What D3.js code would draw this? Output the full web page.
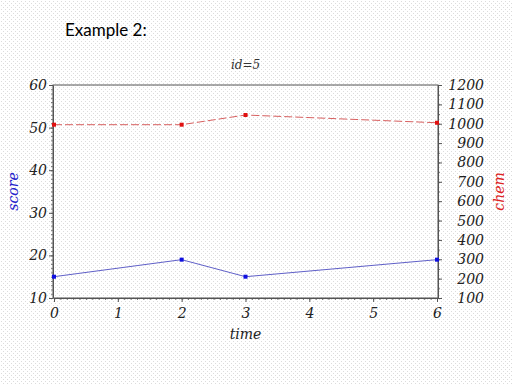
<!DOCTYPE html>
<html>
<head>
<meta charset="utf-8">
<script src="https://cdn.jsdelivr.net/npm/d3@7.9.0/dist/d3.min.js"></script>
<style>
  body { margin: 0; background: #fff; }
  svg { display: block; }
  .tick text { font-family: "DejaVu Serif", serif; font-style: italic; }
</style>
</head>
<body>
<svg width="512" height="384"></svg>
<script>
// data
const time = [0, 2, 3, 6];
const score = [15, 19, 15, 19];
const chem = [995, 995, 1045, 1005];
const xTicks = [0, 1, 2, 3, 4, 5, 6];
const scoreTicks = [10, 20, 30, 40, 50, 60];
const chemTicks = [100, 200, 300, 400, 500, 600, 700, 800, 900, 1000, 1100, 1200];

const svg = d3.select('svg');

// dotted background
const pat = svg.append('defs').append('pattern')
  .attr('id', 'dots').attr('width', 4).attr('height', 4)
  .attr('patternUnits', 'userSpaceOnUse');
pat.append('rect').attr('width', 4).attr('height', 4).attr('fill', '#fff');
pat.append('rect').attr('x', 1).attr('y', 1).attr('width', 1).attr('height', 1).attr('fill', '#dcdcdc');
pat.append('rect').attr('x', 3).attr('y', 3).attr('width', 1).attr('height', 1).attr('fill', '#dcdcdc');
svg.append('rect').attr('width', 512).attr('height', 384).attr('fill', 'url(#dots)');

const plotL = 53, plotR = 438, plotT = 85, plotB = 298;

const x = d3.scaleLinear().domain([0, 6]).range([plotL + 1, plotR - 1]);
const yL = d3.scaleLinear().domain([10, 60]).range([plotB, plotT]);
const yR = d3.scaleLinear().domain([100, 1200]).range([plotB, plotT]);
const fmt = d3.format('d');

// title texts
svg.append('text').attr('x', 65).attr('y', 36)
  .attr('font-family', 'Lato, "Open Sans", sans-serif').attr('font-size', 17)
  .text('Example 2:');
svg.append('text').attr('x', (plotL + plotR) / 2).attr('y', 69)
  .attr('text-anchor', 'middle')
  .attr('font-family', '"DejaVu Serif", serif').attr('font-style', 'italic').attr('font-size', 12)
  .attr('fill', '#333')
  .text('id=5');

// frame
svg.append('rect').attr('x', plotL).attr('y', plotT)
  .attr('width', plotR - plotL).attr('height', plotB - plotT)
  .attr('fill', 'none').attr('stroke', '#555').attr('stroke-width', 1);

function styleAxis(g) {
  g.select('.domain').attr('stroke', '#555');
  g.selectAll('.tick line').attr('stroke', '#555');
  g.selectAll('.tick text').attr('fill', '#222').attr('font-size', 14);
}

// minor ticks
svg.append('g').attr('transform', `translate(0,${plotB})`)
  .call(d3.axisBottom(x).tickValues(d3.range(0, 60).map(d => d / 10)).tickSize(2).tickFormat(''))
  .call(g => g.select('.domain').remove())
  .selectAll('line').attr('stroke', '#777');
svg.append('g').attr('transform', `translate(${plotL},0)`)
  .call(d3.axisLeft(yL).tickValues(d3.range(10, 61, 1)).tickSize(2).tickFormat(''))
  .call(g => g.select('.domain').remove())
  .selectAll('line').attr('stroke', '#777');
svg.append('g').attr('transform', `translate(${plotR},0)`)
  .call(d3.axisRight(yR).tickValues(d3.range(100, 1201, 50)).tickSize(2).tickFormat(''))
  .call(g => g.select('.domain').remove())
  .selectAll('line').attr('stroke', '#777');

// major axes
svg.append('g').attr('transform', `translate(0,${plotB})`)
  .call(d3.axisBottom(x).tickValues(xTicks).tickFormat(fmt).tickSize(4).tickPadding(6).tickSizeOuter(0))
  .call(styleAxis);
svg.append('g').attr('transform', `translate(${plotL},0)`)
  .call(d3.axisLeft(yL).tickValues(scoreTicks).tickFormat(fmt).tickSize(4).tickPadding(2).tickSizeOuter(0))
  .call(styleAxis);
svg.append('g').attr('transform', `translate(${plotR},0)`)
  .call(d3.axisRight(yR).tickValues(chemTicks).tickFormat(fmt).tickSize(4).tickPadding(14).tickSizeOuter(0))
  .call(styleAxis)
  .call(g => g.selectAll('.tick text').attr('text-anchor', 'end').attr('x', 46));

// axis titles
svg.append('text').attr('x', (plotL + plotR) / 2).attr('y', 339)
  .attr('text-anchor', 'middle')
  .attr('font-family', '"DejaVu Serif", serif').attr('font-style', 'italic').attr('font-size', 14)
  .attr('fill', '#222').text('time');
svg.append('text').attr('transform', `translate(18,${(plotT + plotB) / 2}) rotate(-90)`)
  .attr('text-anchor', 'middle')
  .attr('font-family', '"DejaVu Serif", serif').attr('font-style', 'italic').attr('font-size', 14)
  .attr('fill', '#2222cc').text('score');
svg.append('text').attr('transform', `translate(504,${(plotT + plotB) / 2}) rotate(-90)`)
  .attr('text-anchor', 'middle')
  .attr('font-family', '"DejaVu Serif", serif').attr('font-style', 'italic').attr('font-size', 14)
  .attr('fill', '#dd2222').text('chem');

// score series
const lineL = d3.line().x((d, i) => x(time[i])).y(d => yL(d));
svg.append('path').datum(score).attr('d', lineL)
  .attr('fill', 'none').attr('stroke', '#6060c8').attr('stroke-width', 1);
svg.selectAll('.sdot').data(score).join('rect').attr('class', 'sdot')
  .attr('x', (d, i) => x(time[i]) - 2).attr('y', d => yL(d) - 2)
  .attr('width', 4).attr('height', 4).attr('fill', '#1010e0');

// chem series
const lineR = d3.line().x((d, i) => x(time[i])).y(d => yR(d));
svg.append('path').datum(chem).attr('d', lineR)
  .attr('fill', 'none').attr('stroke', '#d86060').attr('stroke-width', 1)
  .attr('stroke-dasharray', '8,3');
svg.selectAll('.cdot').data(chem).join('rect').attr('class', 'cdot')
  .attr('x', (d, i) => x(time[i]) - 2).attr('y', d => yR(d) - 2)
  .attr('width', 4).attr('height', 4).attr('fill', '#e01010');
</script>
</body>
</html>
